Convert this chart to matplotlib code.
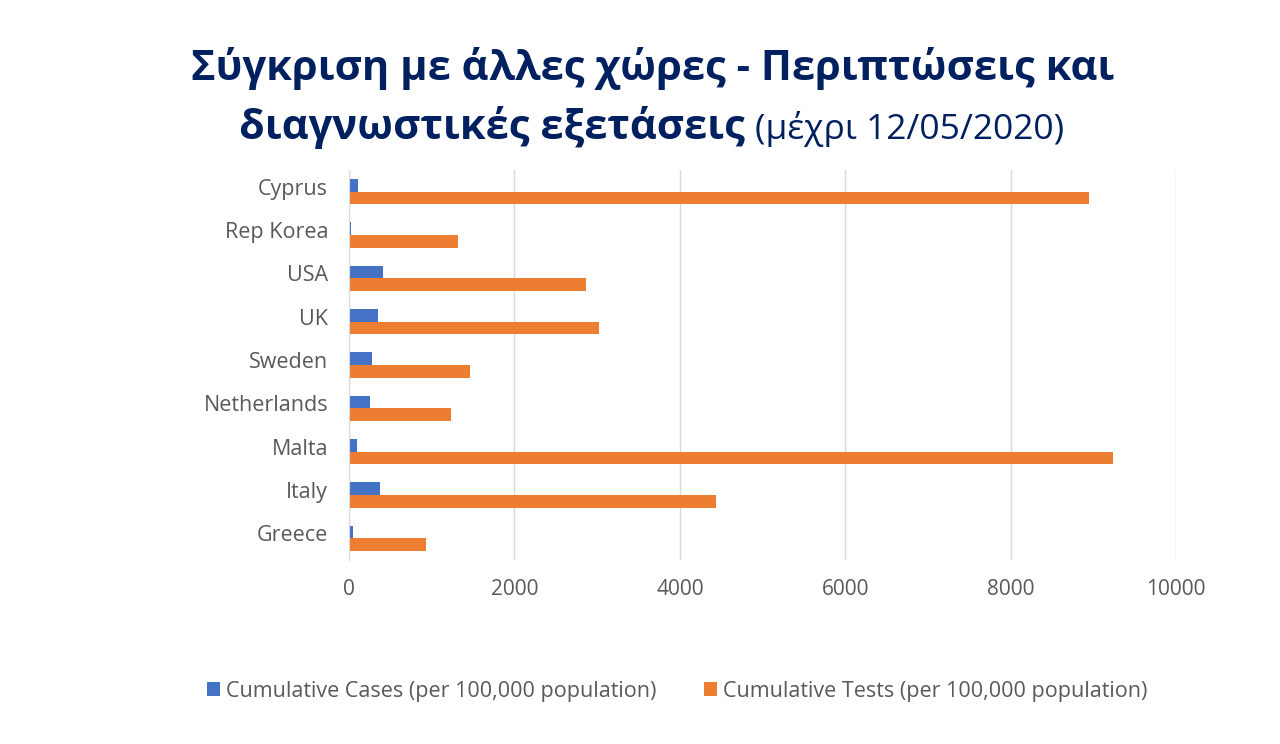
import numpy as np
import matplotlib.pyplot as plt
import matplotlib.transforms as mtransforms

plt.rcParams['font.family'] = ['Open Sans', 'DejaVu Sans']

# data (per 100,000 population, up to 12/05/2020)
countries = ['Cyprus', 'Rep Korea', 'USA', 'UK', 'Sweden', 'Netherlands', 'Malta', 'Italy', 'Greece']
cases = [105, 21, 410, 345, 280, 255, 100, 370, 45]
tests = [8950, 1320, 2870, 3020, 1465, 1235, 9240, 4435, 930]

case_label = 'Cumulative Cases (per 100,000 population)'
test_label = 'Cumulative Tests (per 100,000 population)'

blue = '#4472C4'
orange = '#ED7D31'
navy = '#002060'
grey = '#595959'

fig = plt.figure(figsize=(12.8, 7.44), dpi=100)
ax = fig.add_axes([0.2727, 0.2473, 0.6461, 0.5242])

y = np.arange(len(countries))
h = 0.29
ax.barh(y - h/2, cases, height=h, color=blue, label=case_label, zorder=3)
ax.barh(y + h/2, tests, height=h, color=orange, label=test_label, zorder=3)

ax.set_ylim(len(countries) - 0.5, -0.5)
ax.set_xlim(0, 10000)
ax.set_xticks(np.arange(0, 10001, 2000))
ax.set_yticks(y)
ax.set_yticklabels(countries)
ax.xaxis.grid(True, color='#d9d9d9', linewidth=1, zorder=0)
ax.tick_params(axis='x', length=0, labelsize=15, colors=grey, pad=14)
ax.tick_params(axis='y', length=0, labelsize=15.5, colors=grey, pad=15)
# labels sit a little above the bar pair centre
offset = mtransforms.ScaledTranslation(0, 3.5/72, fig.dpi_scale_trans)
for lab in ax.get_yticklabels():
    lab.set_transform(lab.get_transform() + offset)
for s in ['top', 'right', 'bottom']:
    ax.spines[s].set_visible(False)
ax.spines['left'].set_color('#d9d9d9')
ax.spines['left'].set_zorder(4)

leg = fig.legend(loc='center', bbox_to_anchor=(0.529, 0.071), ncol=2, frameon=False,
                 fontsize=15.5, handlelength=0.6, handleheight=0.6, handletextpad=0.3,
                 columnspacing=2.2)
for t in leg.get_texts():
    t.set_color(grey)

# title, second line mixes bold and normal weight
fig.text(0.51, 0.908, 'Σύγκριση με άλλες χώρες - Περιπτώσεις και', ha='center', va='center',
         fontsize=30, fontweight='bold', color=navy)
t1 = fig.text(0, 0.829, 'διαγνωστικές εξετάσεις', ha='left', va='center',
              fontsize=30, fontweight='bold', color=navy)
t2 = fig.text(0, 0.827, '(μέχρι 12/05/2020)', ha='left', va='center',
              fontsize=25.5, color=navy)
r = fig.canvas.get_renderer()
w1 = t1.get_window_extent(r).width / fig.bbox.width
w2 = t2.get_window_extent(r).width / fig.bbox.width
gap = 10 / fig.bbox.width
x0 = 0.509 - (w1 + gap + w2) / 2
t1.set_x(x0)
t2.set_x(x0 + w1 + gap)

fig.savefig('out.png', dpi=100)
